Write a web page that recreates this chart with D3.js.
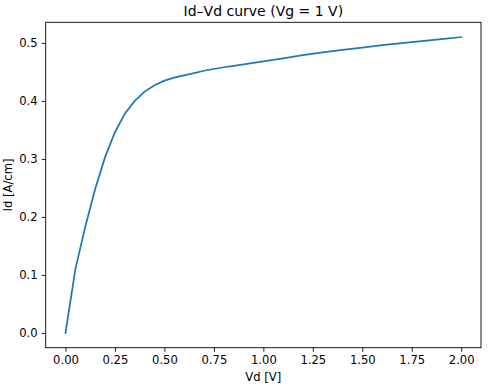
<!DOCTYPE html>
<html>
<head>
<meta charset="utf-8">
<script src="https://cdn.jsdelivr.net/npm/d3@7"></script>
<style>
body { margin: 0; background: #fff; }
text { font-family: "DejaVu Sans", sans-serif; fill: #000; }
</style>
</head>
<body>
<script>
// values
var vd = [0, 0.05, 0.1, 0.15, 0.2, 0.25, 0.3, 0.35, 0.4, 0.45, 0.5, 0.55, 0.6, 0.65, 0.7, 0.75, 0.8, 0.85, 0.9, 0.95, 1.0,
	1.1, 1.2, 1.3, 1.4, 1.5, 1.6, 1.7, 1.8, 1.9, 2.0];
var idVals = [0, 0.11, 0.183, 0.248, 0.303, 0.346, 0.378, 0.4, 0.416, 0.427, 0.435, 0.44, 0.444, 0.448, 0.452, 0.455, 0.458, 0.4605, 0.463, 0.4655, 0.468,
	0.4735, 0.479, 0.4835, 0.488, 0.492, 0.496, 0.4995, 0.503, 0.5065, 0.51];
var xTicks = [0, 0.25, 0.5, 0.75, 1.0, 1.25, 1.5, 1.75, 2.0];
var yTicks = [0, 0.1, 0.2, 0.3, 0.4, 0.5];

var plotL = 45.7, plotR = 481, plotT = 22.3, plotB = 347.7;

var svg = d3.select('body').append('svg')
	.attr('width', 495)
	.attr('height', 387);

var x = d3.scaleLinear().domain([-0.1, 2.1]).range([plotL, plotR]);
var y = d3.scaleLinear().domain([-0.0255, 0.5355]).range([plotB, plotT]);

var xAxis = svg.append('g')
	.attr('transform', 'translate(0,' + plotB + ')')
	.call(d3.axisBottom(x).tickValues(xTicks).tickFormat(d3.format('.2f')).tickSizeOuter(0).tickSize(4).tickPadding(4));
var yAxis = svg.append('g')
	.attr('transform', 'translate(' + plotL + ',0)')
	.call(d3.axisLeft(y).tickValues(yTicks).tickFormat(d3.format('.1f')).tickSizeOuter(0).tickSize(4).tickPadding(4));

[xAxis, yAxis].forEach(function(a) {
	a.select('.domain').remove();
	a.selectAll('line').attr('stroke', '#000').attr('stroke-width', 0.9);
	a.selectAll('text').attr('font-size', 11.6).attr('font-family', 'DejaVu Sans').attr('fill', '#000');
});

var line = d3.line()
	.x(function(d, i) { return x(vd[i]); })
	.y(function(d) { return y(d); });

svg.append('path')
	.datum(idVals)
	.attr('d', line)
	.attr('fill', 'none')
	.attr('stroke', '#1f77b4')
	.attr('stroke-width', 1.75)
	.attr('stroke-linecap', 'square');

svg.append('rect')
	.attr('x', plotL)
	.attr('y', plotT)
	.attr('width', plotR - plotL)
	.attr('height', plotB - plotT)
	.attr('fill', 'none')
	.attr('stroke', '#000')
	.attr('stroke-width', 0.9);

svg.append('text')
	.attr('x', (plotL + plotR) / 2)
	.attr('y', 15.5)
	.attr('text-anchor', 'middle')
	.attr('font-size', 14)
	.text('Id\u2013Vd curve (Vg = 1 V)');

svg.append('text')
	.attr('x', (plotL + plotR) / 2)
	.attr('y', 381)
	.attr('text-anchor', 'middle')
	.attr('font-size', 11.6)
	.text('Vd [V]');

svg.append('text')
	.attr('transform', 'translate(12,' + ((plotT + plotB) / 2) + ') rotate(-90)')
	.attr('text-anchor', 'middle')
	.attr('font-size', 11.6)
	.text('Id [A/cm]');
</script>
</body>
</html>
